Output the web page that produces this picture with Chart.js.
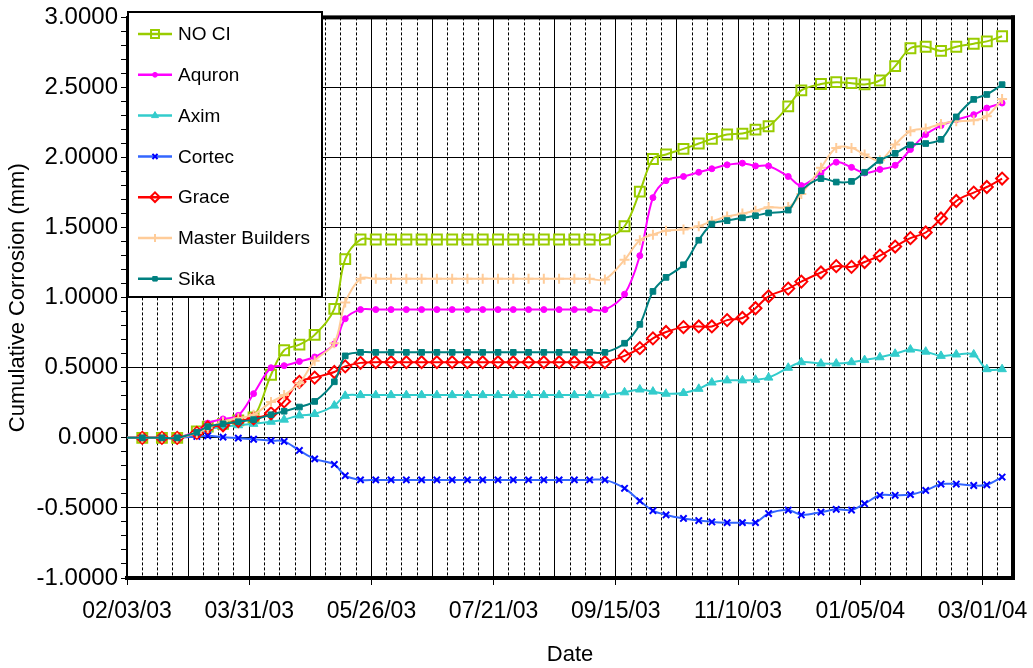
<!DOCTYPE html>
<html>
<head>
<meta charset="utf-8">
<script src="https://cdn.jsdelivr.net/npm/chart.js@4.4.0/dist/chart.umd.min.js"></script>
<style>
  html, body { margin: 0; padding: 0; background: #fff; }
</style>
</head>
<body>
<canvas id="chart" width="1033" height="668"></canvas>
<script>
// measurement dates (MM/DD/YY); the first one sits just before the axis start
const dates = [
  '01/27/03', '02/10/03', '02/19/03', '02/26/03', '03/07/03', '03/12/03', '03/19/03', '03/26/03',
  '04/02/03', '04/10/03', '04/16/03', '04/23/03', '04/30/03', '05/09/03', '05/14/03', '05/21/03',
  '05/28/03', '06/04/03', '06/11/03', '06/18/03', '06/25/03', '07/02/03', '07/09/03', '07/16/03',
  '07/23/03', '07/30/03', '08/06/03', '08/13/03', '08/20/03', '08/27/03', '09/03/03', '09/10/03',
  '09/19/03', '09/26/03', '10/02/03', '10/08/03', '10/16/03', '10/23/03', '10/29/03', '11/05/03',
  '11/12/03', '11/18/03', '11/24/03', '12/03/03', '12/09/03', '12/18/03', '12/25/03', '01/01/04',
  '01/07/04', '01/14/04', '01/21/04', '01/28/04', '02/04/04', '02/11/04', '02/18/04', '02/26/04',
  '03/03/04', '03/10/04'
];

const noCI = [
  0, 0, 0, 0, 0.045, 0.08, 0.10, 0.125, 0.145, 0.45, 0.625, 0.665, 0.735, 0.92, 1.275, 1.415,
  1.415, 1.415, 1.415, 1.415, 1.415, 1.415, 1.415, 1.415, 1.415, 1.415, 1.415, 1.415, 1.415, 1.415, 1.415,
  1.415, 1.51, 1.757, 1.99, 2.022, 2.062, 2.10, 2.133, 2.164, 2.171, 2.199, 2.223, 2.365, 2.479,
  2.525, 2.538, 2.531, 2.522, 2.55, 2.652, 2.78, 2.791, 2.761, 2.791, 2.812, 2.829, 2.865
];
const aquron = [
  0, 0, 0, 0, 0.05, 0.105, 0.135, 0.16, 0.315, 0.50, 0.515, 0.545, 0.577, 0.67, 0.85, 0.915,
  0.915, 0.915, 0.915, 0.915, 0.915, 0.915, 0.915, 0.915, 0.915, 0.915, 0.915, 0.915, 0.915, 0.915, 0.915,
  0.915, 1.025, 1.30, 1.714, 1.835, 1.865, 1.895, 1.92, 1.948, 1.96, 1.94, 1.94, 1.865, 1.80,
  1.89, 1.967, 1.93, 1.89, 1.915, 1.945, 2.057, 2.164, 2.228, 2.27, 2.306, 2.353, 2.389
];
const axim = [
  0, 0, 0, 0, 0.03, 0.06, 0.08, 0.09, 0.10, 0.115, 0.13, 0.16, 0.17, 0.23, 0.30, 0.305,
  0.305, 0.305, 0.305, 0.305, 0.305, 0.305, 0.305, 0.305, 0.305, 0.305, 0.305, 0.305, 0.305, 0.305, 0.305,
  0.305, 0.325, 0.345, 0.33, 0.315, 0.32, 0.35, 0.395, 0.41, 0.41, 0.415, 0.43, 0.50, 0.54,
  0.53, 0.53, 0.54, 0.555, 0.575, 0.60, 0.63, 0.615, 0.585, 0.595, 0.595, 0.49, 0.49
];
const cortec = [
  0, 0, 0, 0, 0.01, 0.015, 0.005, -0.002, -0.01, -0.02, -0.025, -0.09, -0.15, -0.19, -0.27, -0.30,
  -0.30, -0.30, -0.30, -0.30, -0.30, -0.30, -0.30, -0.30, -0.30, -0.30, -0.30, -0.30, -0.30, -0.30, -0.30,
  -0.30, -0.36, -0.45, -0.52, -0.55, -0.575, -0.59, -0.60, -0.605, -0.605, -0.605, -0.54, -0.515, -0.55,
  -0.53, -0.51, -0.515, -0.47, -0.41, -0.41, -0.405, -0.375, -0.33, -0.33, -0.34, -0.335, -0.28
];
const grace = [
  0, 0, 0, 0, 0.035, 0.075, 0.09, 0.12, 0.14, 0.175, 0.26, 0.40, 0.43, 0.47, 0.51, 0.535,
  0.54, 0.54, 0.54, 0.54, 0.54, 0.54, 0.54, 0.54, 0.54, 0.54, 0.54, 0.54, 0.54, 0.54, 0.54,
  0.54, 0.585, 0.64, 0.71, 0.755, 0.79, 0.795, 0.795, 0.84, 0.855, 0.925, 1.01, 1.065, 1.115,
  1.18, 1.225, 1.22, 1.255, 1.30, 1.365, 1.425, 1.465, 1.565, 1.69, 1.75, 1.79, 1.85
];
const masterBuilders = [
  0, 0, 0, 0, 0.035, 0.07, 0.115, 0.14, 0.165, 0.255, 0.305, 0.39, 0.55, 0.675, 0.965, 1.135,
  1.135, 1.135, 1.135, 1.135, 1.135, 1.135, 1.135, 1.135, 1.135, 1.135, 1.135, 1.135, 1.135, 1.135, 1.135,
  1.13, 1.27, 1.41, 1.45, 1.477, 1.487, 1.51, 1.545, 1.58, 1.60, 1.62, 1.645, 1.648, 1.74,
  1.927, 2.069, 2.069, 2.022, 1.98, 2.093, 2.188, 2.207, 2.24, 2.259, 2.266, 2.294, 2.417
];
const sika = [
  0, 0, 0, 0, 0.04, 0.08, 0.10, 0.115, 0.13, 0.165, 0.19, 0.22, 0.26, 0.40, 0.585, 0.61,
  0.61, 0.61, 0.61, 0.61, 0.61, 0.61, 0.61, 0.61, 0.61, 0.61, 0.61, 0.61, 0.61, 0.61, 0.61,
  0.61, 0.675, 0.81, 1.045, 1.145, 1.235, 1.41, 1.525, 1.55, 1.57, 1.585, 1.605, 1.625, 1.763,
  1.85, 1.825, 1.83, 1.895, 1.98, 2.03, 2.09, 2.10, 2.13, 2.29, 2.415, 2.45, 2.52
];

const FONT = '"Liberation Sans", Arial, sans-serif';
const START = Date.UTC(2003, 1, 3);
const DAY = 864e5;
const pad2 = n => String(n).padStart(2, '0');

// days since 02/03/03, so the axis can be a plain linear one
const toDay = s => {
  const [m, d, y] = s.split('/').map(Number);
  return Math.round((Date.UTC(2000 + y, m - 1, d) - START) / DAY);
};
const fmtDay = v => {
  const t = new Date(START + v * DAY);
  return pad2(t.getUTCMonth() + 1) + '/' + pad2(t.getUTCDate()) + '/' + pad2(t.getUTCFullYear() % 100);
};
const days = dates.map(toDay);
const pts = vals => vals.map((v, i) => ({ x: days[i], y: v }));

const series = [
  { label: 'NO CI', data: noCI, color: '#99CC00', style: 'rect', r: 7, fill: 'rgba(0,0,0,0)', bw: 2 },
  { label: 'Aquron', data: aquron, color: '#FF00FF', style: 'circle', r: 3, fill: '#FF00FF', bw: 1 },
  { label: 'Axim', data: axim, color: '#33CCCC', style: 'triangle', r: 5, fill: '#33CCCC', bw: 1 },
  { label: 'Cortec', data: cortec, color: '#3366FF', mark: '#0000FF', style: 'crossRot', r: 4.5, fill: '#0000FF', bw: 2 },
  { label: 'Grace', data: grace, color: '#FF0000', style: 'rectRot', r: 6, fill: 'rgba(0,0,0,0)', bw: 2 },
  { label: 'Master Builders', data: masterBuilders, color: '#FFCC99', style: 'cross', r: 5, fill: '#FFCC99', bw: 2 },
  { label: 'Sika', data: sika, color: '#008080', style: 'rect', r: 4, fill: '#008080', bw: 1 }
];

const isMajorY = v => Math.round(v * 10) % 5 === 0;

const frame = {
  id: 'frame',
  afterDraw(chart) {
    const ctx = chart.ctx;
    const a = chart.chartArea;
    ctx.save();
    ctx.fillStyle = '#000';
    ctx.fillRect(a.left, a.top - 2, a.right - a.left + 2, 4);
    ctx.fillRect(a.right - 2, a.top - 2, 4, a.bottom - a.top + 4);

    // legend box in the top-left corner of the plot
    ctx.fillStyle = '#fff';
    ctx.fillRect(128, 12, 194, 285);
    ctx.lineWidth = 2;
    ctx.strokeStyle = '#000';
    ctx.strokeRect(128, 12, 194, 285);
    chart.data.datasets.forEach((ds, i) => {
      const y = 34 + i * 40.8;
      ctx.strokeStyle = ds.borderColor;
      ctx.lineWidth = 2.5;
      ctx.beginPath();
      ctx.moveTo(138, y);
      ctx.lineTo(172, y);
      ctx.stroke();
      ctx.fillStyle = ds.pointBackgroundColor;
      ctx.strokeStyle = ds.pointBorderColor;
      ctx.lineWidth = ds.pointBorderWidth;
      if (Chart.helpers && Chart.helpers.drawPoint) {
        Chart.helpers.drawPoint(ctx, { pointStyle: ds.pointStyle, radius: ds.pointRadius * 0.8, rotation: 0, borderWidth: ds.pointBorderWidth }, 155, y);
      }
      ctx.fillStyle = '#000';
      ctx.font = '19px ' + FONT;
      ctx.textBaseline = 'middle';
      ctx.textAlign = 'left';
      ctx.fillText(ds.label, 178, y + 1);
    });
    ctx.restore();
  }
};

new Chart(document.getElementById('chart'), {
  type: 'line',
  data: {
    datasets: series.map((s, i) => ({
      label: s.label,
      data: pts(s.data),
      borderColor: s.color,
      borderWidth: 2,
      pointStyle: s.style,
      pointRadius: s.r,
      pointBackgroundColor: s.fill,
      pointBorderColor: s.mark || s.color,
      pointBorderWidth: s.bw,
      tension: 0.35,
      fill: false,
      order: series.length - i
    }))
  },
  options: {
    responsive: false,
    animation: false,
    devicePixelRatio: 1,
    layout: { padding: { top: 15, right: 20, left: 0, bottom: 0 } },
    plugins: { legend: { display: false }, tooltip: { enabled: false } },
    scales: {
      x: {
        type: 'linear',
        min: 0,
        max: 406,
        afterFit: s => { s.height = 90; },
        ticks: {
          stepSize: 7,
          autoSkip: false,
          maxRotation: 0,
          padding: 13,
          color: '#000',
          font: { family: FONT, size: 23 },
          callback: v => (v % 56 === 0 ? fmtDay(v) : '')
        },
        grid: {
          color: '#000',
          lineWidth: 1,
          tickLength: 7,
          tickColor: c => (c.tick && c.tick.value % 56 === 0 ? '#000' : 'rgba(0,0,0,0)')
        },
        border: {
          color: '#000',
          width: 4,
          dash: c => (c.tick && c.tick.value % 28 !== 0 ? [3, 2] : [])
        },
        title: {
          display: true,
          text: 'Date',
          color: '#000',
          font: { family: FONT, size: 22 },
          padding: { top: 0, bottom: 0 }
        }
      },
      y: {
        min: -1,
        max: 3,
        afterFit: s => { s.width = 127; },
        ticks: {
          stepSize: 0.1,
          autoSkip: false,
          padding: 3,
          color: '#000',
          font: { family: FONT, size: 24 },
          callback: v => {
            const r = Math.round(v * 10);
            if (r % 5 !== 0) return '';
            return r === 0 ? '0.000' : (r / 10).toFixed(4);
          }
        },
        grid: {
          color: c => (c.tick && isMajorY(c.tick.value) ? '#000' : 'rgba(0,0,0,0)'),
          lineWidth: 1,
          tickLength: 6,
          tickColor: '#000'
        },
        border: { color: '#000', width: 2 },
        title: {
          display: true,
          text: 'Cumulative Corrosion (mm)',
          color: '#000',
          font: { family: FONT, size: 22 },
          padding: { top: 5, bottom: 0 }
        }
      }
    }
  },
  plugins: [frame]
});
</script>
</body>
</html>
